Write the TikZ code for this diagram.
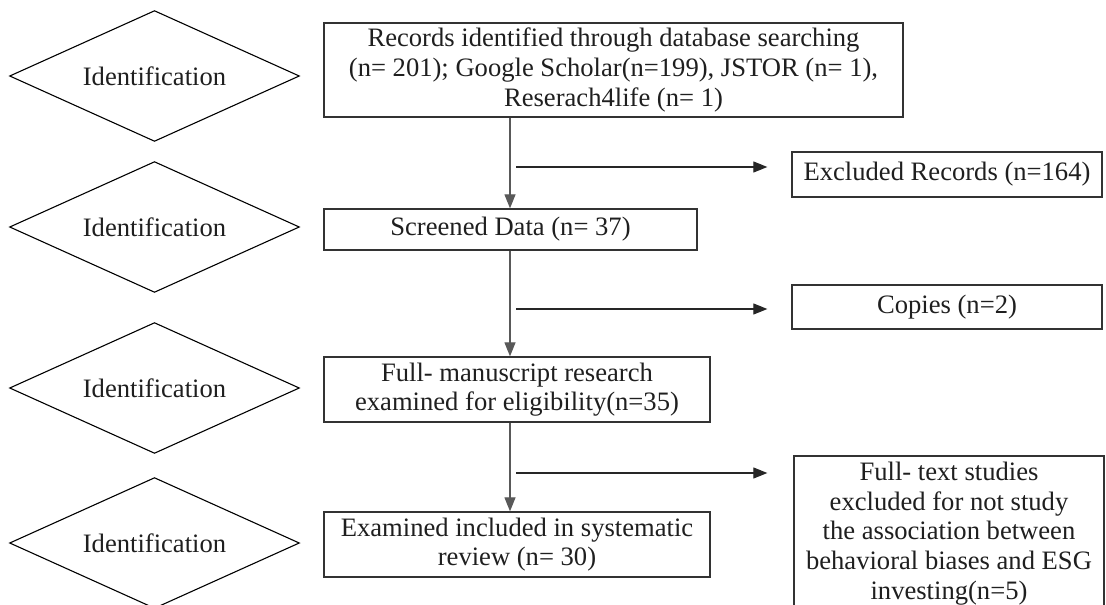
\documentclass[tikz,border=0pt]{standalone}
\usepackage{fontspec}
\setmainfont{Liberation Serif}
\usetikzlibrary{arrows.meta}
\begin{document}
\begin{tikzpicture}[x=1pt,y=-1pt,
  every node/.style={font=\fontsize{26.6}{29.6}\selectfont, text=black!88},
  dia/.style={rectangle, minimum width=289pt, minimum height=130pt, inner sep=0pt},
  diaedge/.style={draw=black, line width=1.1pt, line join=miter},
  box/.style={draw=black!80, line width=1.3pt, inner sep=0pt, align=center},
  varr/.style={-{Triangle[length=14pt,width=11pt]}, line width=1.2pt, draw=black!65},
  harr/.style={-{Triangle[length=14pt,width=11pt]}, line width=1.1pt, draw=black!85},
]
\clip (0,0) rectangle (1106,605);
\fill[white] (0,0) rectangle (1106,605);
% left diamonds
\node[dia] (d1) at (154.5,76) {Identification};
\node[dia] (d2) at (154.5,227) {Identification};
\node[dia] (d3) at (154.5,388) {Identification};
\node[dia] (d4) at (154.5,543) {Identification};
\foreach \d in {d1,d2,d3,d4}
  \draw[diaedge] (\d.west) -- (\d.north) -- (\d.east) -- (\d.south) -- cycle;
% main column
\node[box, minimum width=579pt, minimum height=94pt] (b1) at (613.5,70)
  {Records identified through database searching\\(n= 201); Google Scholar(n=199), JSTOR (n= 1),\\Reserach4life (n= 1)};
\node[box, minimum width=373pt, minimum height=41pt] (b2) at (510.5,229.5) {Screened Data (n= 37)};
\node[box, minimum width=386pt, minimum height=65pt] (b3) at (517,389.5)
  {Full- manuscript research\\examined for eligibility(n=35)};
\node[box, minimum width=386pt, minimum height=65pt] (b4) at (517,544.5)
  {Examined included in systematic\\review (n= 30)};
% side boxes
\node[box, minimum width=310pt, minimum height=45pt] (e1) at (947,174.5) {Excluded Records (n=164)};
\node[box, minimum width=310pt, minimum height=44pt] (e2) at (947,307) {Copies (n=2)};
\node[box, minimum width=310pt, minimum height=155pt] (e3) at (949,533.5)
  {Full- text studies\\excluded for not study\\the association between\\behavioral biases and ESG\\investing(n=5)};
% connectors
\coordinate (col) at (510,0);
\draw[varr] (col |- b1.south) -- (col |- b2.north);
\draw[varr] (col |- b2.south) -- (col |- b3.north);
\draw[varr] (col |- b3.south) -- (col |- b4.north);
\coordinate (h1) at (516,167);
\coordinate (h2) at (516,309);
\coordinate (h3) at (516,473);
\draw[harr] (h1) -- ([xshift=-24pt]h1 -| e1.west);
\draw[harr] (h2) -- ([xshift=-24pt]h2 -| e2.west);
\draw[harr] (h3) -- ([xshift=-26pt]h3 -| e3.west);
\end{tikzpicture}
\end{document}
